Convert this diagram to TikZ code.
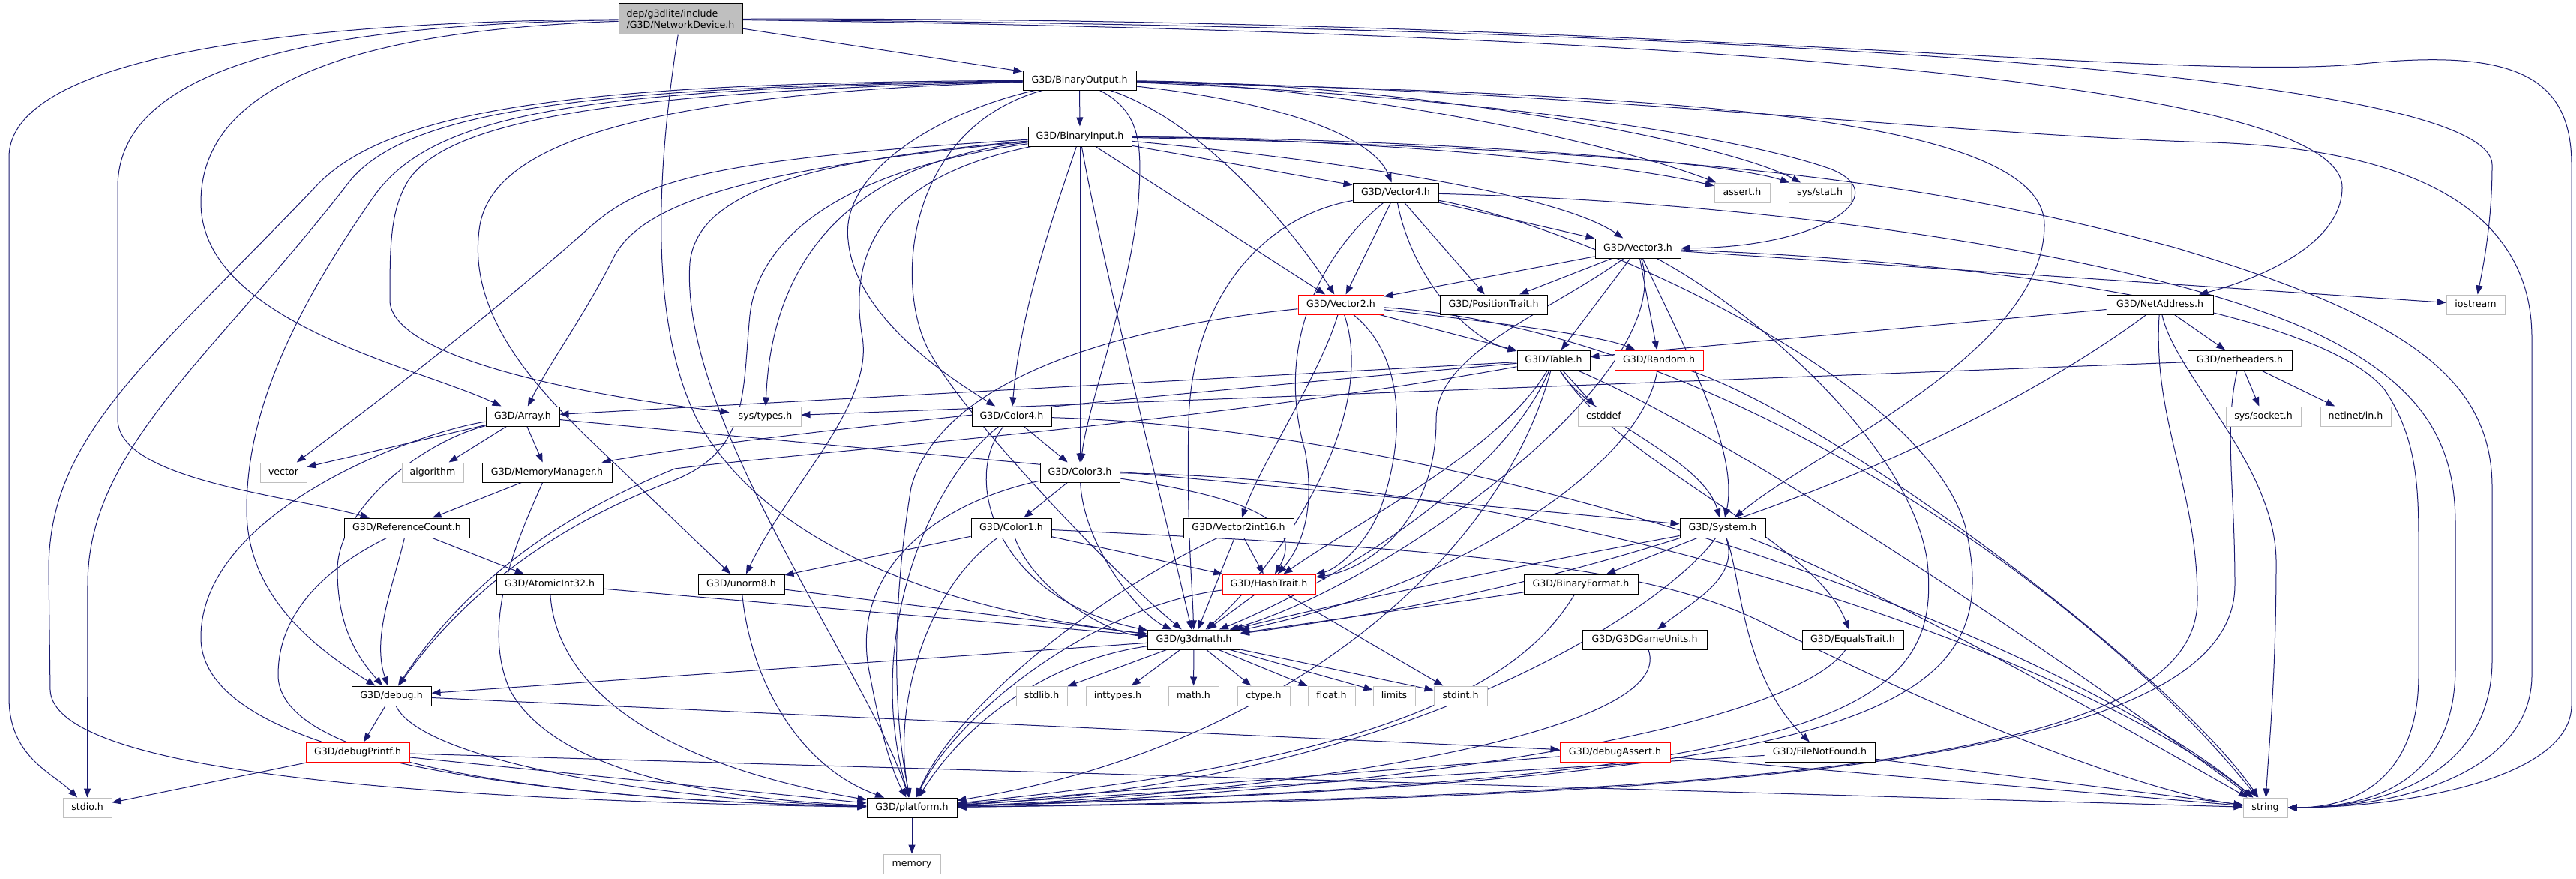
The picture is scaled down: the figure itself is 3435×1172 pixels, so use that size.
\documentclass[tikz,border=0pt]{standalone}
\usepackage{fontspec}
\setmainfont{DejaVu Sans}
\usetikzlibrary{arrows.meta}
\pgfdeclarelayer{bg}
\pgfsetlayers{bg,main}
\definecolor{edgecol}{HTML}{191970}
\definecolor{extgray}{HTML}{BFBFBF}
\newcommand\gnode[6]{\node[#5,minimum width=#4pt] (#1) at (#2,#3) {#6};}
\tikzset{
  nbox/.style={draw=black, line width=1pt, fill=white, inner sep=0pt, minimum height=26pt,
    text height=9.2pt, text depth=2.6pt, font=\fontsize{12.6}{15}\selectfont},
  extbox/.style={nbox, draw=extgray},
  redbox/.style={nbox, draw=red},
  rootbox/.style={draw=black, line width=1pt, fill=extgray, inner sep=0pt, minimum height=41pt,
    align=left, font=\fontsize{12.6}{15}\selectfont},
  conn/.style={draw=edgecol, line width=1pt, -{Triangle[length=12pt,width=9pt]}}
}
\begin{document}
\begin{tikzpicture}[x=1pt,y=-1pt]
\useasboundingbox (0,0) rectangle (3435,1172);
% ---------------- nodes
\gnode{ND}{907.5}{25.5}{165}{rootbox}{dep/g3dlite/include\\/G3D/NetworkDevice.h}
\gnode{BO}{1439.5}{107}{151}{nbox}{G3D/BinaryOutput.h}
\gnode{BI}{1440}{182}{138}{nbox}{G3D/BinaryInput.h}
\gnode{V4}{1861}{257}{114}{nbox}{G3D/Vector4.h}
\gnode{assert}{2323}{257}{74}{extbox}{assert.h}
\gnode{sysstat}{2426.5}{257}{83}{extbox}{sys/stat.h}
\gnode{V3}{2184}{331}{114}{nbox}{G3D/Vector3.h}
\gnode{V2}{1788}{406}{114}{redbox}{G3D/Vector2.h}
\gnode{PosTrait}{1991.5}{406}{143}{nbox}{G3D/PositionTrait.h}
\gnode{NetAddr}{2880}{406}{142}{nbox}{G3D/NetAddress.h}
\gnode{iostream}{3301}{406}{78}{extbox}{iostream}
\gnode{Table}{2071.5}{480}{97}{nbox}{G3D/Table.h}
\gnode{Random}{2212}{480}{118}{redbox}{G3D/Random.h}
\gnode{netheaders}{2986.5}{480}{139}{nbox}{G3D/netheaders.h}
\gnode{Array}{697}{555}{98}{nbox}{G3D/Array.h}
\gnode{systypes}{1020.5}{555}{95}{extbox}{sys/types.h}
\gnode{Color4}{1349}{555}{106}{nbox}{G3D/Color4.h}
\gnode{cstddef}{2138.5}{555}{69}{extbox}{cstddef}
\gnode{syssocket}{3018}{555}{100}{extbox}{sys/socket.h}
\gnode{netinet}{3141}{555}{94}{extbox}{netinet/in.h}
\gnode{vector}{378}{630}{62}{extbox}{vector}
\gnode{algorithm}{577}{630}{82}{extbox}{algorithm}
\gnode{MemMgr}{729.5}{630}{173}{nbox}{G3D/MemoryManager.h}
\gnode{Color3}{1440}{630}{106}{nbox}{G3D/Color3.h}
\gnode{RefCount}{542.5}{704}{167}{nbox}{G3D/ReferenceCount.h}
\gnode{Color1}{1348.5}{704}{107}{nbox}{G3D/Color1.h}
\gnode{V2i16}{1651.5}{704}{147}{nbox}{G3D/Vector2int16.h}
\gnode{System}{2297}{704}{114}{nbox}{G3D/System.h}
\gnode{Atomic}{733}{779}{142}{nbox}{G3D/AtomicInt32.h}
\gnode{unorm8}{988.5}{779}{115}{nbox}{G3D/unorm8.h}
\gnode{HashTrait}{1692}{779}{124}{redbox}{G3D/HashTrait.h}
\gnode{BinFormat}{2108}{779}{152}{nbox}{G3D/BinaryFormat.h}
\gnode{g3dmath}{1592}{853}{123}{nbox}{G3D/g3dmath.h}
\gnode{G3DGU}{2193}{853}{166}{nbox}{G3D/G3DGameUnits.h}
\gnode{EqualsTrait}{2470.5}{853}{135}{nbox}{G3D/EqualsTrait.h}
\gnode{debug}{522}{928}{106}{nbox}{G3D/debug.h}
\gnode{stdlib}{1389}{928}{68}{extbox}{stdlib.h}
\gnode{inttypes}{1490.5}{928}{85}{extbox}{inttypes.h}
\gnode{mathh}{1591.5}{928}{67}{extbox}{math.h}
\gnode{ctype}{1685}{928}{70}{extbox}{ctype.h}
\gnode{floath}{1775.5}{928}{63}{extbox}{float.h}
\gnode{limits}{1859}{928}{56}{extbox}{limits}
\gnode{stdint}{1947.5}{928}{71}{extbox}{stdint.h}
\gnode{debugPrintf}{477}{1003}{138}{redbox}{G3D/debugPrintf.h}
\gnode{debugAssert}{2153.5}{1003}{147}{redbox}{G3D/debugAssert.h}
\gnode{FileNotFound}{2426.5}{1003}{147}{nbox}{G3D/FileNotFound.h}
\gnode{stdio}{116.5}{1077}{65}{extbox}{stdio.h}
\gnode{platform}{1216}{1077}{120}{nbox}{G3D/platform.h}
\gnode{string}{3020.5}{1077}{59}{extbox}{string}
\gnode{memory}{1216}{1152}{76}{extbox}{memory}
% ---------------- connectors
\begin{pgfonlayer}{bg}
\fill[white] (0,0) rectangle (3435,1172);
% NetworkDevice
\draw[conn] (ND) -- (BO);
\draw[conn] (ND) .. controls (420,28) and (12,70) .. (12,210) -- (12,930) .. controls (12,1010) and (70,1030) .. (stdio);
\draw[conn] (ND) .. controls (450,32) and (157,80) .. (157,250) -- (157,560) .. controls (160,640) and (380,660) .. (RefCount);
\draw[conn] (ND) .. controls (480,40) and (268,110) .. (268,270) .. controls (268,430) and (560,490) .. (Array);
\draw[conn] (ND) .. controls (880,200) and (860,420) .. (930,560) .. controls (1050,780) and (1400,830) .. (g3dmath);
\draw[conn] (ND) .. controls (2000,40) and (3123,90) .. (3123,250) .. controls (3123,330) and (3000,375) .. (NetAddr);
\draw[conn] (ND) .. controls (2200,35) and (3323,90) .. (3323,220) .. controls (3323,300) and (3310,360) .. (iostream);
\draw[conn] (ND) .. controls (2200,22) and (2900,110) .. (3150,85) .. controls (3350,65) and (3429,100) .. (3429,220) -- (3429,940) .. controls (3429,1040) and (3200,1077) .. (string);
% BinaryOutput
\draw[conn] (BO) -- (BI);
\draw[conn] (BO) .. controls (800,110) and (520,140) .. (420,250) .. controls (200,480) and (65,580) .. (65,760) -- (67,920) .. controls (70,1010) and (400,1065) .. (platform);
\draw[conn] (BO) .. controls (760,115) and (530,150) .. (460,250) .. controls (280,480) and (117,600) .. (117,780) -- (stdio);
\draw[conn] (BO) .. controls (780,118) and (580,150) .. (500,260) .. controls (380,430) and (329,560) .. (329,680) .. controls (329,800) and (430,870) .. (debug);
\draw[conn] (BO) .. controls (820,122) and (600,160) .. (545,240) .. controls (520,280) and (520,330) .. (520,400) .. controls (520,480) and (800,530) .. (systypes);
\draw[conn] (BO) .. controls (860,125) and (660,190) .. (640,300) .. controls (620,420) and (720,520) .. (780,580) -- (unorm8);
\draw[conn] (BO) .. controls (1250,150) and (1120,230) .. (1131,320) .. controls (1140,420) and (1260,500) .. (Color4);
\draw[conn] (BO) .. controls (1210,170) and (1190,380) .. (1240,470) .. controls (1290,560) and (1480,760) .. (g3dmath);
\draw[conn] (BO) .. controls (1525,150) and (1522,200) .. (1518,270) .. controls (1505,400) and (1450,540) .. (Color3);
\draw[conn] (BO) .. controls (1600,160) and (1720,300) .. (V2);
\draw[conn] (BO) .. controls (1700,135) and (1830,180) .. (V4);
\draw[conn] (BO) .. controls (1900,125) and (2280,170) .. (2440,225) .. controls (2530,260) and (2430,330) .. (V3);
\draw[conn] (BO) .. controls (1800,115) and (2150,190) .. (assert);
\draw[conn] (BO) .. controls (1900,112) and (2300,190) .. (sysstat);
\draw[conn] (BO) .. controls (2100,120) and (2600,180) .. (2950,190) .. controls (3250,200) and (3376,300) .. (3376,450) -- (3376,900) .. controls (3376,1030) and (3200,1077) .. (string);
\draw[conn] (BO) .. controls (2100,125) and (2726,140) .. (2726,300) .. controls (2726,470) and (2420,600) .. (System);
% BinaryInput
\draw[conn] (BI) -- (V4);
\draw[conn] (BI) -- (V2);
\draw[conn] (BI) -- (Color3);
\draw[conn] (BI) .. controls (1400,300) and (1360,420) .. (Color4);
\draw[conn] (BI) .. controls (1470,350) and (1545,650) .. (g3dmath);
\draw[conn] (BI) .. controls (1800,215) and (2080,260) .. (V3);
\draw[conn] (BI) .. controls (1800,185) and (2150,215) .. (assert);
\draw[conn] (BI) .. controls (1900,185) and (2300,215) .. (sysstat);
\draw[conn] (BI) .. controls (2300,200) and (2600,250) .. (2900,330) .. controls (3200,420) and (3323,500) .. (3323,650) -- (3323,880) .. controls (3323,1020) and (3200,1077) .. (string);
\draw[conn] (BI) .. controls (1150,215) and (1030,330) .. (systypes);
\draw[conn] (BI) .. controls (1000,225) and (860,270) .. (820,340) .. controls (780,420) and (735,480) .. (Array);
\draw[conn] (BI) .. controls (950,212) and (860,240) .. (790,300) .. controls (620,450) and (470,560) .. (vector);
\draw[conn] (BI) .. controls (1060,215) and (930,260) .. (920,350) .. controls (905,560) and (1160,900) .. (platform);
\draw[conn] (BI) .. controls (1100,230) and (1010,330) .. (1000,420) .. controls (990,520) and (1000,600) .. (900,640) .. controls (740,700) and (620,790) .. (debug);
\draw[conn] (BI) .. controls (1160,240) and (1133,350) .. (1150,450) .. controls (1165,540) and (1050,650) .. (unorm8);
% Vector4
\draw[conn] (V4) -- (V3);
\draw[conn] (V4) -- (V2);
\draw[conn] (V4) -- (PosTrait);
\draw[conn] (V4) .. controls (1880,360) and (1950,450) .. (Table);
\draw[conn] (V4) .. controls (1760,340) and (1700,460) .. (1740,600) .. controls (1755,680) and (1735,730) .. (HashTrait);
\draw[conn] (V4) .. controls (1680,290) and (1590,400) .. (1585,560) .. controls (1582,700) and (1590,780) .. (g3dmath);
\draw[conn] (V4) .. controls (2400,270) and (2900,350) .. (3100,450) .. controls (3240,520) and (3274,600) .. (3274,700) -- (3274,890) .. controls (3274,1030) and (3180,1077) .. (string);
\draw[conn] (V4) .. controls (2100,300) and (2560,500) .. (2620,700) .. controls (2680,950) and (2500,1040) .. (platform);
% Vector3
\draw[conn] (V3) -- (V2);
\draw[conn] (V3) -- (PosTrait);
\draw[conn] (V3) -- (Table);
\draw[conn] (V3) -- (Random);
\draw[conn] (V3) -- (iostream);
\draw[conn] (V3) .. controls (2060,420) and (1915,470) .. (1915,560) .. controls (1915,700) and (1820,760) .. (HashTrait);
\draw[conn] (V3) .. controls (2240,500) and (1850,780) .. (g3dmath);
\draw[conn] (V3) .. controls (2240,450) and (2320,600) .. (System);
\draw[conn] (V3) .. controls (2700,350) and (3100,420) .. (3180,520) .. controls (3220,580) and (3225,640) .. (3225,720) -- (3225,900) .. controls (3225,1030) and (3150,1077) .. (string);
\draw[conn] (V3) .. controls (2350,420) and (2550,600) .. (2570,750) .. controls (2590,950) and (2450,1040) .. (platform);
% Vector2
\draw[conn] (V2) -- (Table);
\draw[conn] (V2) .. controls (1950,425) and (2130,445) .. (Random);
\draw[conn] (V2) .. controls (1880,480) and (1870,600) .. (1840,680) .. controls (1820,730) and (1780,760) .. (HashTrait);
\draw[conn] (V2) .. controls (1760,500) and (1680,620) .. (V2i16);
\draw[conn] (V2) .. controls (1840,560) and (1700,760) .. (g3dmath);
\draw[conn] (V2) .. controls (1450,440) and (1250,520) .. (1215,650) .. controls (1190,800) and (1190,950) .. (platform);
\draw[conn] (V2) .. controls (2300,440) and (2800,800) .. (string);
% NetAddress / netheaders
\draw[conn] (NetAddr) -- (Table);
\draw[conn] (NetAddr) -- (netheaders);
\draw[conn] (NetAddr) .. controls (2700,540) and (2300,760) .. (g3dmath);
\draw[conn] (NetAddr) .. controls (2900,500) and (3035,620) .. (3035,750) .. controls (3035,900) and (3025,1000) .. (string);
\draw[conn] (NetAddr) .. controls (2870,560) and (2930,650) .. (2930,800) .. controls (2930,1010) and (2400,1060) .. (platform);
\draw[conn] (netheaders) -- (systypes);
\draw[conn] (netheaders) -- (syssocket);
\draw[conn] (netheaders) -- (netinet);
\draw[conn] (netheaders) .. controls (2965,570) and (2980,650) .. (2980,780) .. controls (2980,1020) and (2300,1065) .. (platform);
% Table / Random
\draw[conn] (Table) -- (Array);
\draw[conn] (Table) .. controls (1500,530) and (1000,580) .. (MemMgr);
\draw[conn] (Table) .. controls (1600,565) and (1100,600) .. (900,625) .. controls (740,690) and (620,780) .. (debug);
\draw[conn] (Table) -- (cstddef);
\draw[conn] (Table) .. controls (2120,560) and (2270,610) .. (System);
\draw[conn] (Table) .. controls (2000,650) and (1750,790) .. (g3dmath);
\draw[conn] (Table) .. controls (2000,600) and (1820,690) .. (HashTrait);
\draw[conn] (Table) .. controls (2160,620) and (2420,720) .. (EqualsTrait);
\draw[conn] (Table) .. controls (2000,750) and (1700,1000) .. (platform);
\draw[conn] (Table) .. controls (2350,600) and (2850,950) .. (string);
\draw[conn] (Random) .. controls (2190,620) and (1950,780) .. (g3dmath);
\draw[conn] (Random) .. controls (2450,560) and (2900,900) .. (string);
% Array, MemoryManager, ReferenceCount, AtomicInt32, unorm8
\draw[conn] (Array) -- (vector);
\draw[conn] (Array) -- (algorithm);
\draw[conn] (Array) -- (MemMgr);
\draw[conn] (Array) -- (System);
\draw[conn] (Array) .. controls (560,590) and (450,680) .. (450,760) .. controls (450,840) and (480,880) .. (debug);
\draw[conn] (Array) .. controls (560,575) and (268,680) .. (268,850) .. controls (268,1010) and (700,1065) .. (platform);
\draw[conn] (MemMgr) -- (RefCount);
\draw[conn] (MemMgr) .. controls (690,720) and (640,830) .. (680,920) .. controls (740,1030) and (950,1065) .. (platform);
\draw[conn] (RefCount) .. controls (525,780) and (495,850) .. (debug);
\draw[conn] (RefCount) -- (Atomic);
\draw[conn] (RefCount) .. controls (430,760) and (371,820) .. (371,900) .. controls (371,1030) and (800,1068) .. (platform);
\draw[conn] (Atomic) -- (g3dmath);
\draw[conn] (Atomic) .. controls (740,890) and (830,1010) .. (platform);
\draw[conn] (unorm8) -- (g3dmath);
\draw[conn] (unorm8) .. controls (1000,900) and (1060,1020) .. (platform);
% Colors
\draw[conn] (Color4) -- (Color3);
\draw[conn] (Color4) .. controls (1280,640) and (1330,800) .. (g3dmath);
\draw[conn] (Color4) .. controls (1240,640) and (1150,850) .. (platform);
\draw[conn] (Color4) .. controls (2000,575) and (2750,850) .. (string);
\draw[conn] (Color3) -- (Color1);
\draw[conn] (Color3) .. controls (1445,730) and (1520,820) .. (g3dmath);
\draw[conn] (Color3) .. controls (1640,660) and (1745,690) .. (HashTrait);
\draw[conn] (Color3) .. controls (1250,670) and (1130,760) .. (1160,900) .. controls (1175,980) and (1190,1030) .. (platform);
\draw[conn] (Color3) .. controls (2100,640) and (2780,880) .. (string);
\draw[conn] (Color1) -- (HashTrait);
\draw[conn] (Color1) -- (unorm8);
\draw[conn] (Color1) .. controls (1380,790) and (1480,845) .. (g3dmath);
\draw[conn] (Color1) .. controls (1230,790) and (1190,950) .. (platform);
\draw[conn] (Color1) .. controls (1900,730) and (2190,750) .. (2350,830) .. controls (2650,980) and (2880,1060) .. (string);
\draw[conn] (V2i16) -- (HashTrait);
\draw[conn] (V2i16) -- (g3dmath);
\draw[conn] (V2i16) .. controls (1450,800) and (1270,950) .. (platform);
\draw[conn] (HashTrait) -- (g3dmath);
\draw[conn] (HashTrait) -- (stdint);
\draw[conn] (HashTrait) .. controls (1450,810) and (1270,960) .. (platform);
% g3dmath
\foreach \t in {stdlib,inttypes,mathh,ctype,floath,limits,stdint} {\draw[conn] (g3dmath) -- (\t);}
\draw[conn] (g3dmath) -- (debug);
\draw[conn] (g3dmath) .. controls (1400,880) and (1290,960) .. (platform);
% System and below
\draw[conn] (System) -- (BinFormat);
\draw[conn] (System) .. controls (2320,770) and (2260,800) .. (G3DGU);
\draw[conn] (System) .. controls (2322,770) and (2322,900) .. (FileNotFound);
\draw[conn] (System) .. controls (2100,740) and (1800,800) .. (g3dmath);
\draw[conn] (System) .. controls (2230,800) and (1900,1040) .. (platform);
\draw[conn] (System) .. controls (2500,780) and (2850,980) .. (string);
\draw[conn] (BinFormat) -- (g3dmath);
\draw[conn] (BinFormat) .. controls (2040,890) and (1900,1010) .. (platform);
\draw[conn] (G3DGU) .. controls (2240,980) and (1700,1060) .. (platform);
\draw[conn] (EqualsTrait) .. controls (2380,980) and (1800,1060) .. (platform);
\draw[conn] (debug) -- (debugPrintf);
\draw[conn] (debug) -- (debugAssert);
\draw[conn] (debug) .. controls (560,1010) and (850,1065) .. (platform);
\draw[conn] (debugPrintf) -- (stdio);
\draw[conn] (debugPrintf) -- (platform);
\draw[conn] (debugPrintf) -- (string);
\draw[conn] (debugAssert) -- (platform);
\draw[conn] (debugAssert) -- (string);
\draw[conn] (FileNotFound) -- (platform);
\draw[conn] (FileNotFound) -- (string);
\draw[conn] (platform) -- (memory);
\end{pgfonlayer}
\end{tikzpicture}
\end{document}
